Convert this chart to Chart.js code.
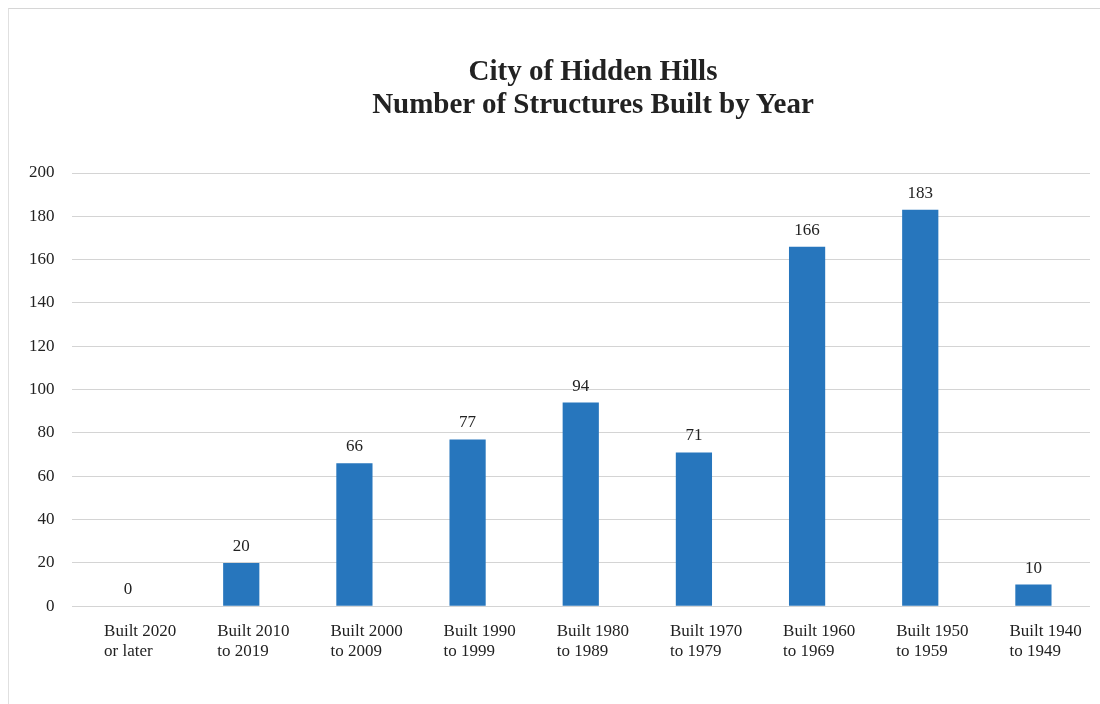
<!DOCTYPE html>
<html>
<head>
<meta charset="utf-8">
<title>City of Hidden Hills - Structures Built by Year</title>
<script src="https://cdn.jsdelivr.net/npm/chart.js@4/dist/chart.umd.min.js"></script>
<style>
  html, body { margin: 0; padding: 0; background: #fff; }
  #wrap { position: relative; width: 1100px; height: 704px; overflow: hidden; }
  #frame {
    position: absolute; left: 8px; top: 8px; width: 1200px; height: 800px;
    border-top: 1px solid #d6d6d6; border-left: 1px solid #e0e0e0;
  }
  #title {
    position: absolute; left: 293px; top: 54px; width: 600px;
    text-align: center; color: #222;
    font: bold 29px/33px 'Liberation Serif', 'Times New Roman', serif;
  }
  canvas { position: absolute; left: 0; top: 0; }
</style>
</head>
<body>
<div id="wrap">
  <div id="frame"></div>
  <canvas id="chart" width="1100" height="704"></canvas>
  <div id="title"></div>
</div>
<script>
// Kategori periode pembangunan (dua baris per label)
const periods = [
  ["Built 2020", "or later"],
  ["Built 2010", "to 2019"],
  ["Built 2000", "to 2009"],
  ["Built 1990", "to 1999"],
  ["Built 1980", "to 1989"],
  ["Built 1970", "to 1979"],
  ["Built 1960", "to 1969"],
  ["Built 1950", "to 1959"],
  ["Built 1940", "to 1949"]
];
// Jumlah bangunan per periode
const structures = [0, 20, 66, 77, 94, 71, 166, 183, 10];
const titleLines = ["City of Hidden Hills", "Number of Structures Built by Year"];

// Judul ditulis sebagai teks HTML di atas kanvas
document.getElementById("title").innerHTML = titleLines.join("<br>");

const serif = "'Liberation Serif', 'Times New Roman', serif";
const barColor = "#2776bd";

// Tulis angka di atas tiap batang
const valueLabels = {
  id: "valueLabels",
  afterDatasetsDraw(chart) {
    const ctx = chart.ctx;
    const meta = chart.getDatasetMeta(0);
    ctx.save();
    ctx.font = "17px " + serif;
    ctx.fillStyle = "#222";
    ctx.textAlign = "center";
    ctx.textBaseline = "bottom";
    meta.data.forEach((bar, i) => {
      ctx.fillText(String(structures[i]), bar.x, bar.y - 8);
    });
    ctx.restore();
  }
};

let chart = new Chart(document.getElementById("chart").getContext("2d"), {
  type: "bar",
  data: {
    labels: periods,
    datasets: [{
      label: "Structures",
      data: structures,
      backgroundColor: barColor,
      borderWidth: 0,
      barPercentage: 0.32,
      categoryPercentage: 1
    }]
  },
  options: {
    responsive: false,
    animation: false,
    layout: {
      padding: { left: 12, right: 10, top: 173, bottom: 27 }
    },
    plugins: {
      legend: { display: false },
      tooltip: { enabled: false },
      title: { display: false }
    },
    scales: {
      x: {
        grid: { display: false, drawTicks: false },
        border: { display: false },
        // label rata kiri digeser dengan labelOffset, jadi ruang ekstra di kanan tidak perlu
        afterFit(scale) {
          scale.paddingLeft = 0;
          scale.paddingRight = 0;
        },
        ticks: {
          color: "#222",
          font: { family: serif, size: 17, lineHeight: 1.2 },
          align: "start",
          labelOffset: -24,
          padding: 15,
          autoSkip: false,
          maxRotation: 0
        }
      },
      y: {
        min: 0,
        max: 200,
        grid: { color: "#d4d4d4", lineWidth: 1, drawTicks: false },
        border: { display: false },
        ticks: {
          stepSize: 20,
          color: "#222",
          font: { family: serif, size: 17 },
          padding: 17
        }
      }
    }
  },
  plugins: [valueLabels]
});
</script>
</body>
</html>
